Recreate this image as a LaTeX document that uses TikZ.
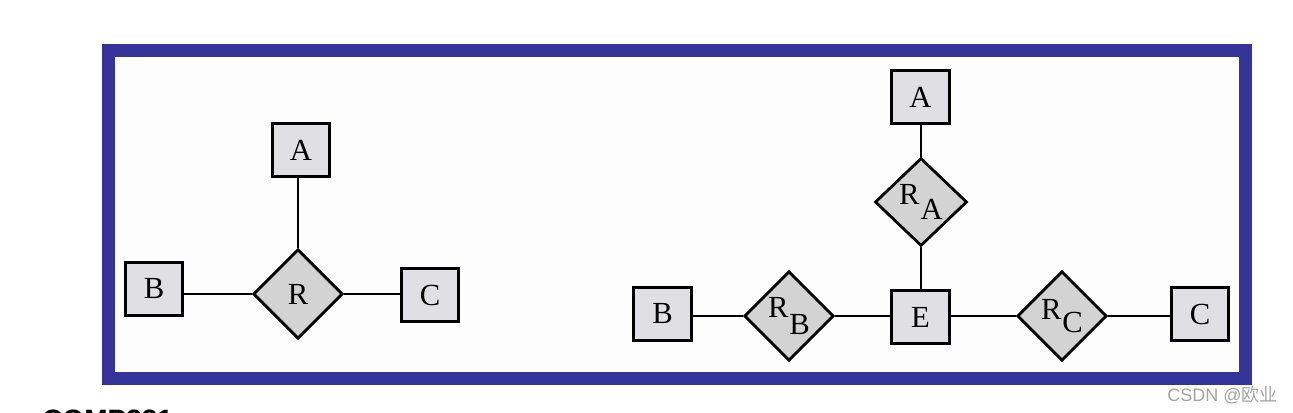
\documentclass[tikz,border=0pt]{standalone}
\usepackage{fontspec}
\setmainfont{Liberation Serif}
\newfontfamily\cjkfont{Noto Sans CJK SC}
\newfontfamily\sansfont{Liberation Sans}
\usetikzlibrary{shapes.geometric}
\definecolor{frameblue}{RGB}{51,51,153}
\definecolor{boxfill}{RGB}{224,223,227}
\definecolor{diafill}{RGB}{211,211,211}
\definecolor{wmgray}{RGB}{165,165,165}
\definecolor{innerbg}{RGB}{253,253,253}
\tikzset{
  entbox/.style={draw=black, fill=boxfill, line width=2.1pt, minimum width=43pt, minimum height=40pt, inner sep=0pt, font=\fontsize{23}{25}\selectfont},
  reldia/.style={diamond, draw=black, fill=diafill, line width=2.1pt, minimum width=67pt, minimum height=67pt, inner sep=0pt, font=\fontsize{23}{25}\selectfont},
  conn/.style={draw=black, line width=2pt}
}
\newcommand{\rsub}[2][0.5em]{R\kern0.03em\raisebox{-#1}{#2}}
\begin{document}
\begin{tikzpicture}[x=0.75pt,y=-0.75pt]
\useasboundingbox (0,0) rectangle (1293,413);
\fill[white] (0,0) rectangle (1293,413);
% frame
\draw[frameblue, line width=10.1pt, fill=innerbg] (108.75,50.75) rectangle (1245.75,378.25);
% left diagram
\node[entbox] (A1) at (301,150) {A};
\node[entbox] (B1) at (154,289) {B};
\node[entbox] (C1) at (430,295) {C};
\node[reldia] (R) at (298,294) {R};
\draw[conn] (R.north) -- (R.north |- A1.south);
\draw[conn] (R.west) -- (R.west -| B1.east);
\draw[conn] (R.east) -- (R.east -| C1.west);
% right diagram
\node[entbox] (A2) at (920.5,97) {A};
\node[reldia, minimum width=69pt, minimum height=66pt] (RA) at (921,202) {\rsub{A}};
\node[entbox] (E) at (920.5,317) {E};
\node[entbox] (B2) at (662.5,314) {B};
\node[reldia] (RB) at (789,316) {\rsub[0.55em]{B}};
\node[reldia] (RC) at (1062,316) {\rsub[0.4em]{C}};
\node[entbox] (C2) at (1200,314) {C};
\draw[conn] (RA.north) -- (RA.north |- A2.south);
\draw[conn] (RA.south) -- (RA.south |- E.north);
\draw[conn] (RB.west) -- (RB.west -| B2.east);
\draw[conn] (RB.east) -- (RB.east -| E.west);
\draw[conn] (RC.west -| E.east) -- (RC.west);
\draw[conn] (RC.east) -- (RC.east -| C2.west);
% cut-off caption and watermark
\node[anchor=base west, inner sep=0pt, font={\sansfont\bfseries\fontsize{21}{22}\selectfont}] (cap) at (42,430) {COMP331};
\node[anchor=base west, inner sep=0pt, text=wmgray, font={\sansfont\fontsize{13.5}{14}\selectfont}] (wm) at (1167,401.5) {CSDN @{\cjkfont 欧业}};
\end{tikzpicture}
\end{document}
